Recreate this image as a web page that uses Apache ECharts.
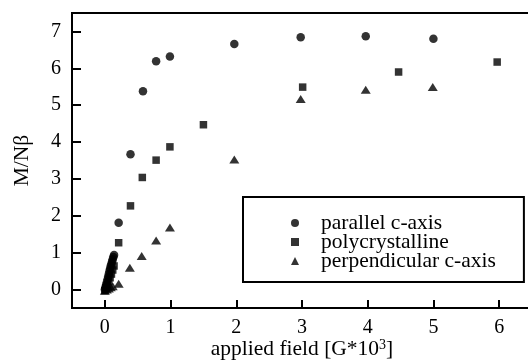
<!DOCTYPE html>
<html>
<head>
    <meta charset="utf-8"/>
    <title>M/Nβ vs applied field</title>
    <script src="https://cdn.jsdelivr.net/npm/echarts@6/dist/echarts.min.js"></script>
    <style>
        html, body { margin: 0; padding: 0; background: #fff; }
        #chart { width: 528px; height: 360px; }
    </style>
</head>
<body>
<div id="chart"></div>
<script>
    // 数据 [field (G*10^3), M/Nβ]
    var seriesNames = ['parallel c-axis', 'polycrystalline', 'perpendicular c-axis'];
    var xTicks = [0, 1, 2, 3, 4, 5, 6];
    var yTicks = [0, 1, 2, 3, 4, 5, 6, 7];

    var parallelData = [
        [0.00, 0.00], [0.01, 0.06], [0.02, 0.13], [0.03, 0.20], [0.04, 0.27],
        [0.05, 0.35], [0.06, 0.42], [0.07, 0.50], [0.08, 0.57], [0.09, 0.64],
        [0.10, 0.70], [0.11, 0.76], [0.12, 0.82], [0.13, 0.88], [0.14, 0.94],
        [0.21, 1.81], [0.39, 3.67], [0.58, 5.38], [0.78, 6.19], [0.99, 6.32],
        [1.97, 6.66], [2.98, 6.84], [3.97, 6.87], [5.00, 6.80]
    ];
    var polyData = [
        [0.00, -0.03], [0.02, 0.05], [0.04, 0.13], [0.06, 0.22], [0.08, 0.32],
        [0.10, 0.42], [0.12, 0.53], [0.14, 0.64],
        [0.21, 1.27], [0.39, 2.27], [0.57, 3.04], [0.78, 3.51], [0.99, 3.87],
        [1.50, 4.47], [3.01, 5.49], [4.47, 5.90], [5.97, 6.17]
    ];
    var perpData = [
        [0.00, -0.03], [0.03, 0.00], [0.06, 0.03], [0.09, 0.06], [0.12, 0.09],
        [0.21, 0.16], [0.38, 0.59], [0.56, 0.91], [0.78, 1.33], [0.99, 1.68],
        [1.97, 3.53], [2.98, 5.17], [3.97, 5.42], [4.99, 5.49]
    ];

    var font = 'Liberation Serif';
    var chart = echarts.init(document.getElementById('chart'), null, {renderer: 'canvas'});

    var option = {
        animation: false,
        backgroundColor: '#fff',
        grid: {
            left: 72,
            top: 13,
            right: -4,
            bottom: 52,
            show: true,
            borderColor: '#000',
            borderWidth: 2,
            outerBoundsMode: 'none'
        },
        legend: {
            orient: 'vertical',
            left: 243,
            top: 197,
            data: [
                {name: seriesNames[0], icon: 'circle'},
                {name: seriesNames[1], icon: 'rect'},
                {name: seriesNames[2], icon: 'triangle'}
            ],
            itemWidth: 8,
            itemHeight: 8,
            itemGap: -3,
            borderColor: '#000',
            borderWidth: 2,
            padding: [15, 28, 10, 48],
            formatter: function (name) {
                return '{g|}{t|' + name + '}';
            },
            textStyle: {
                fontFamily: font,
                fontSize: 21.5,
                color: '#000',
                rich: {
                    g: {width: 17},
                    t: {fontFamily: font, fontSize: 21.5, color: '#000'}
                }
            }
        },
        xAxis: {
            type: 'value',
            min: -0.5,
            max: 6.5,
            name: 'applied field [G*10{sup|3}]',
            nameLocation: 'middle',
            nameGap: 30,
            nameMoveOverlap: false,
            nameTextStyle: {
                fontFamily: font,
                fontSize: 21.5,
                color: '#000',
                rich: {
                    sup: {fontFamily: font, fontSize: 14, color: '#000', verticalAlign: 'top', padding: [0, 0, 9, 0]}
                }
            },
            axisLine: {onZero: false, lineStyle: {color: '#000', width: 2}},
            axisTick: {inside: true, length: 8, lineStyle: {color: '#000', width: 2}, customValues: xTicks},
            axisLabel: {fontFamily: font, fontSize: 20, color: '#000', margin: 10, customValues: xTicks},
            splitLine: {show: false}
        },
        yAxis: {
            type: 'value',
            min: -0.5,
            max: 7.5,
            name: 'M/Nβ',
            nameLocation: 'middle',
            nameGap: 39,
            nameMoveOverlap: false,
            nameTextStyle: {fontFamily: font, fontSize: 21.5, color: '#000'},
            axisLine: {onZero: false, lineStyle: {color: '#000', width: 2}},
            axisTick: {inside: true, length: 9, lineStyle: {color: '#000', width: 2}, customValues: yTicks},
            axisLabel: {fontFamily: font, fontSize: 20, color: '#000', margin: 11, customValues: yTicks},
            splitLine: {show: false}
        },
        series: [
            {
                name: seriesNames[0],
                type: 'scatter',
                symbol: 'circle',
                symbolSize: 8.5,
                itemStyle: {color: '#000'},
                data: parallelData
            },
            {
                name: seriesNames[1],
                type: 'scatter',
                symbol: 'rect',
                symbolSize: 7.5,
                itemStyle: {color: '#000'},
                data: polyData
            },
            {
                name: seriesNames[2],
                type: 'scatter',
                symbol: 'triangle',
                symbolSize: [10, 8],
                itemStyle: {color: '#000'},
                data: perpData
            }
        ]
    };
    chart.setOption(option);
</script>
</body>
</html>
